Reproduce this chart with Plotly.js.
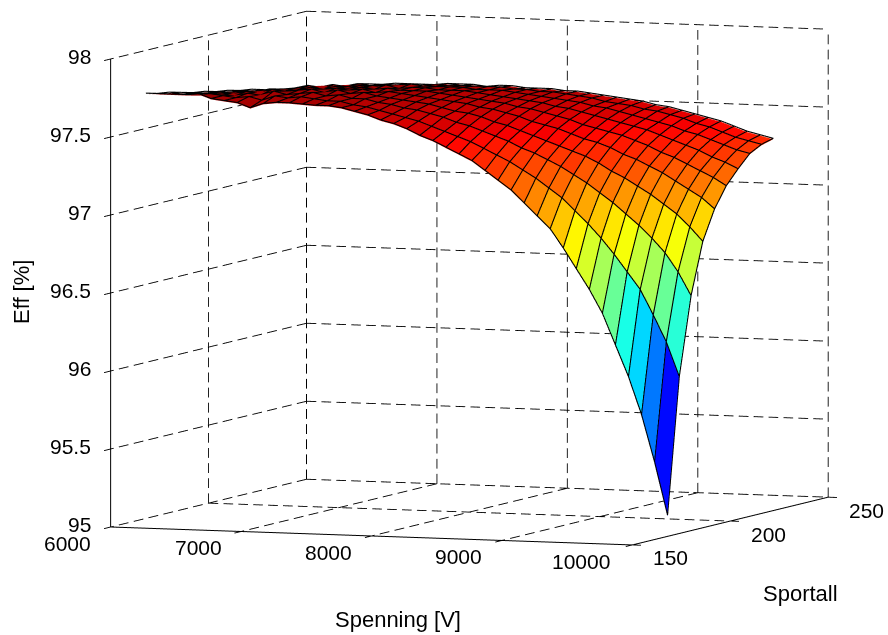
<!DOCTYPE html>
<html><head><meta charset="utf-8">
<script src="https://cdn.plot.ly/plotly-3.0.1.min.js"></script>
<style>html,body{margin:0;padding:0;background:#fff}#c{width:888px;height:635px}</style>
</head><body><div id="c"></div>
<script>
const spenning=[6000,6100,6200,6300,6400,6500,6600,6700,6800,6900,7000,7100,7200,7300,7400,7500,7600,7700,7800,7900,8000,8100,8200,8300,8400,8500,8600,8700,8800,8900,9000,9100,9200,9300,9400,9500,9600,9700,9800,9900,10000];
const sportall=[168,174,180,186,192,198,204,210,216,222];
const eff=[
[97.72,97.70,97.69,97.67,97.65,97.64,97.62,97.61,97.59,97.58],
[97.72,97.70,97.68,97.67,97.65,97.64,97.62,97.61,97.59,97.58],
[97.72,97.70,97.69,97.67,97.66,97.64,97.63,97.61,97.60,97.58],
[97.72,97.70,97.69,97.68,97.66,97.65,97.63,97.62,97.60,97.59],
[97.73,97.71,97.69,97.67,97.67,97.65,97.64,97.63,97.61,97.59],
[97.70,97.70,97.68,97.69,97.67,97.67,97.65,97.63,97.62,97.60],
[97.69,97.69,97.70,97.68,97.69,97.67,97.66,97.65,97.62,97.61],
[97.68,97.70,97.69,97.71,97.68,97.68,97.68,97.65,97.64,97.62],
[97.65,97.68,97.72,97.70,97.69,97.70,97.67,97.67,97.64,97.63],
[97.68,97.71,97.70,97.71,97.71,97.68,97.69,97.66,97.66,97.64],
[97.69,97.70,97.71,97.72,97.70,97.70,97.68,97.68,97.65,97.64],
[97.69,97.71,97.72,97.70,97.71,97.69,97.69,97.67,97.66,97.65],
[97.685,97.70,97.70,97.72,97.70,97.70,97.68,97.68,97.66,97.65],
[97.68,97.69,97.71,97.70,97.71,97.69,97.70,97.67,97.67,97.65],
[97.68,97.69,97.69,97.71,97.69,97.70,97.68,97.69,97.67,97.65],
[97.67,97.67,97.69,97.69,97.70,97.69,97.69,97.68,97.66,97.66],
[97.65,97.66,97.67,97.68,97.69,97.69,97.69,97.68,97.67,97.66],
[97.63,97.64,97.66,97.67,97.68,97.69,97.68,97.68,97.67,97.66],
[97.60,97.62,97.64,97.66,97.67,97.68,97.68,97.68,97.67,97.65],
[97.58,97.60,97.63,97.65,97.66,97.67,97.68,97.67,97.67,97.66],
[97.55,97.58,97.61,97.63,97.65,97.66,97.67,97.67,97.67,97.66],
[97.51,97.55,97.59,97.61,97.64,97.65,97.66,97.67,97.66,97.65],
[97.48,97.52,97.56,97.60,97.62,97.64,97.65,97.66,97.66,97.65],
[97.44,97.49,97.54,97.58,97.61,97.63,97.64,97.65,97.65,97.65],
[97.40,97.46,97.51,97.55,97.59,97.61,97.63,97.64,97.65,97.64],
[97.36,97.42,97.48,97.53,97.57,97.60,97.62,97.63,97.64,97.64],
[97.30,97.38,97.45,97.50,97.54,97.58,97.60,97.62,97.63,97.63],
[97.24,97.34,97.41,97.47,97.52,97.56,97.59,97.61,97.62,97.62],
[97.18,97.29,97.38,97.44,97.50,97.54,97.57,97.59,97.60,97.61],
[97.10,97.24,97.34,97.41,97.47,97.51,97.55,97.58,97.59,97.60],
[97.02,97.18,97.30,97.38,97.44,97.49,97.53,97.56,97.58,97.59],
[96.94,97.12,97.25,97.35,97.42,97.47,97.51,97.54,97.56,97.57],
[96.82,97.04,97.20,97.31,97.39,97.45,97.49,97.52,97.55,97.56],
[96.69,96.96,97.14,97.26,97.35,97.42,97.47,97.50,97.53,97.54],
[96.56,96.87,97.08,97.22,97.32,97.39,97.44,97.48,97.51,97.52],
[96.41,96.77,97.01,97.17,97.28,97.35,97.41,97.45,97.48,97.50],
[96.21,96.66,96.94,97.12,97.24,97.32,97.38,97.43,97.46,97.48],
[96.01,96.55,96.86,97.06,97.19,97.28,97.35,97.40,97.43,97.45],
[95.77,96.39,96.77,97.00,97.14,97.24,97.31,97.37,97.40,97.42],
[95.47,96.22,96.65,96.92,97.09,97.20,97.28,97.34,97.38,97.40],
[95.13,96.00,96.50,96.83,97.02,97.15,97.24,97.32,97.36,97.38]
];
const xTicks=[6000,7000,8000,9000,10000];
const yTicks=[150,200,250];
const zTicks=[95,95.5,96,96.5,97,97.5,98];
const zTickLabels=['95','95.5','96','96.5','97','97.5','98'];
const xRange=[5893,10107], yRange=[144,256], zRange=[94.98,98.02];
const cMin=95.13, cMax=97.8;

function jet(v){
  let n=(v-cMin)/(cMax-cMin); n=Math.max(0,Math.min(0.9999,n));
  n=(Math.floor(n*64)+0.5)/64;
  const f=t=>Math.round(255*Math.max(0,Math.min(1,1.5-Math.abs(4*n-t))));
  return `rgb(${f(3)},${f(2)},${f(1)})`;
}
const X=[],Y=[],Z=[],I=[],J=[],K=[],FC=[];
const nx=spenning.length, ny=sportall.length;
spenning.forEach((x,a)=>sportall.forEach((y,b)=>{X.push(x);Y.push(y);Z.push(eff[a][b]);}));
for(let a=0;a<nx-1;a++)for(let b=0;b<ny-1;b++){
  const p=a*ny+b,q=(a+1)*ny+b,r=(a+1)*ny+b+1,s=a*ny+b+1,c=jet(eff[a][b]);
  I.push(p,p);J.push(q,r);K.push(r,s);FC.push(c,c);
}
const wx=[],wy=[],wz=[],lift=0.006;
for(let a=0;a<nx;a++){for(let b=0;b<ny;b++){wx.push(spenning[a]);wy.push(sportall[b]);wz.push(eff[a][b]+lift);}wx.push(null);wy.push(null);wz.push(null);}
for(let b=0;b<ny;b++){for(let a=0;a<nx;a++){wx.push(spenning[a]);wy.push(sportall[b]);wz.push(eff[a][b]+lift);}wx.push(null);wy.push(null);wz.push(null);}
const gx=[],gy=[],gz=[];
const PX={x:523/4000,y:203/100,z:470/3};
function dashed(p,q){
  const len=Math.hypot((q[0]-p[0])*PX.x,(q[1]-p[1])*PX.y,(q[2]-p[2])*PX.z);
  const n=Math.max(1,Math.round(len/15));
  for(let m=0;m<n;m++){
    const a=m/n,b=(m+0.65)/n;
    [a,b].forEach(t=>{gx.push(p[0]+(q[0]-p[0])*t);gy.push(p[1]+(q[1]-p[1])*t);gz.push(p[2]+(q[2]-p[2])*t);});
    gx.push(null);gy.push(null);gz.push(null);
  }
}
const x0=xTicks[0],x1=xTicks[4],y0=yTicks[0],y1=yTicks[2],z0=zTicks[0],z1=zTicks[6];
xTicks.forEach(x=>{dashed([x,y1,z0],[x,yRange[0],z0]);dashed([x,y1,z0],[x,y1,z1]);});
yTicks.forEach(y=>{dashed([x0,y,z0],[xRange[1],y,z0]);dashed([x0,y,z0],[x0,y,z1]);});
zTicks.forEach(z=>{dashed([x0,y1,z],[x0,yRange[0],z]);dashed([x0,y1,z],[x1,y1,z]);});
const ax=[],ay=[],az=[];
[[[x0,y0,z0],[x1,y0,z0],[x1,y1,z0]],[[x0,y0,z0],[x0,y0,z1]]].forEach(l=>{l.forEach(p=>{ax.push(p[0]);ay.push(p[1]);az.push(p[2]);});ax.push(null);ay.push(null);az.push(null);});

const traces=[
 {type:'mesh3d',x:X,y:Y,z:Z,i:I,j:J,k:K,facecolor:FC,flatshading:true,showscale:false,hoverinfo:'skip',
  lighting:{ambient:1,diffuse:0,specular:0,roughness:1,fresnel:0},lightposition:{x:0,y:0,z:1e5}},
 {type:'scatter3d',mode:'lines',x:wx,y:wy,z:wz,line:{color:'#000',width:2.2},hoverinfo:'skip',showlegend:false},
 {type:'scatter3d',mode:'lines',x:gx,y:gy,z:gz,line:{color:'#000',width:1.8},hoverinfo:'skip',showlegend:false},
 {type:'scatter3d',mode:'lines',x:ax,y:ay,z:az,line:{color:'#000',width:2},hoverinfo:'skip',showlegend:false}
];
const F='"Liberation Sans",Arial,sans-serif';
const tf={family:F,size:21,color:'#000'};
const ann=[];
xTicks.forEach((x,i)=>ann.push({x:x,y:y0,z:z0,text:String(x),showarrow:false,font:tf,xanchor:'center',yanchor:'middle',xshift:i==4?-51:-43,yshift:-16.5}));
yTicks.forEach(y=>ann.push({x:x1,y:y,z:z0,text:String(y),showarrow:false,font:tf,xanchor:'center',yanchor:'middle',xshift:38.5,yshift:-13}));
zTicks.forEach((z,i)=>ann.push({x:x0,y:y0,z:z,text:zTickLabels[i],showarrow:false,font:tf,xanchor:'right',yanchor:'middle',xshift:-18,yshift:3}));
const axis=(r)=>({range:r,autorange:false,showgrid:false,zeroline:false,showline:false,showticklabels:false,ticks:'',showbackground:false,showspikes:false,title:{text:''},visible:true});
const layout={width:888,height:635,margin:{l:0,r:0,t:0,b:0},paper_bgcolor:'#fff',showlegend:false,hovermode:false,
 scene:{domain:{x:[0,1],y:[0,1]},aspectmode:'manual',aspectratio:{x:1.849,y:1.966,z:1.500},
  xaxis:axis(xRange),yaxis:axis(yRange),zaxis:axis(zRange),annotations:ann,
  camera:{projection:{type:'orthographic'},up:{x:0,y:0,z:1},center:{x:-0.0709,y:-0.0388,z:-0.1236},eye:{x:0.979,y:-2.835,z:0.151}}},
 annotations:[
  {xref:'paper',yref:'paper',x:398/888,y:1-619/635,text:'Spenning [V]',xanchor:'center',yanchor:'middle',showarrow:false,font:{family:F,size:22,color:'#000'}},
  {xref:'paper',yref:'paper',x:800/888,y:1-593/635,text:'Sportall',xanchor:'center',yanchor:'middle',showarrow:false,font:{family:F,size:22,color:'#000'}},
  {xref:'paper',yref:'paper',x:22/888,y:1-292/635,text:'Eff [%]',textangle:-90,xanchor:'center',yanchor:'middle',showarrow:false,font:{family:F,size:22,color:'#000'}}
 ]};
Plotly.newPlot('c',traces,layout,{displayModeBar:false});
</script></body></html>
